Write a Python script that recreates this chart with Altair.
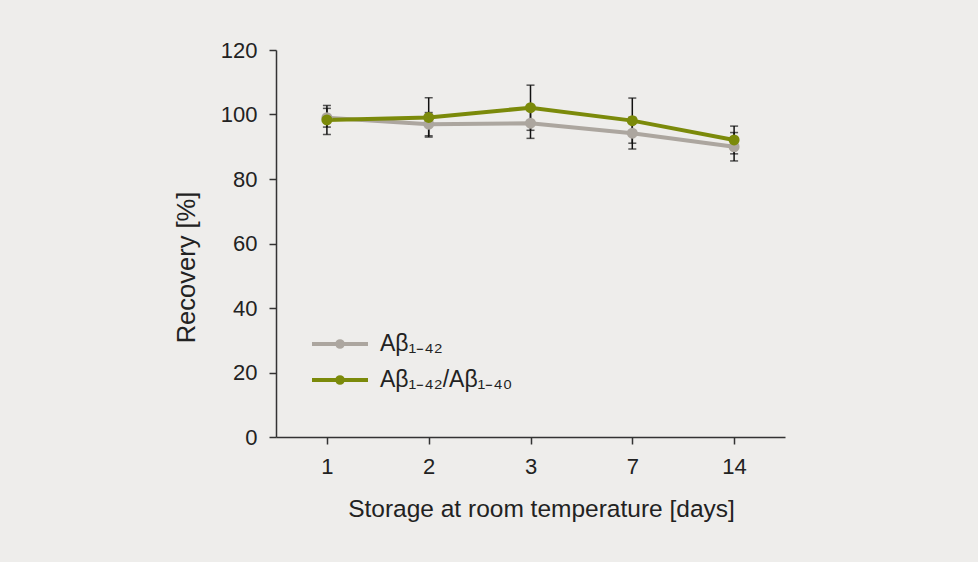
import altair as alt
import pandas as pd

days = ["1", "2", "3", "7", "14"]
series_names = ["Aβ1-42", "Aβ1-42/Aβ1-40"]
gray_values = [99.0, 97.0, 97.3, 94.2, 90.0]
gray_errors = [2.9, 3.6, 4.7, 4.9, 4.4]
green_values = [98.3, 99.1, 102.1, 98.1, 92.1]
green_errors = [4.5, 6.1, 7.0, 7.0, 4.3]
y_ticks = [0, 20, 40, 60, 80, 100, 120]

rows = []
for name, vals, errs in [(series_names[0], gray_values, gray_errors),
                         (series_names[1], green_values, green_errors)]:
    for d, v, e in zip(days, vals, errs):
        rows.append({"day": d, "series": name, "value": v, "lo": v - e, "hi": v + e})
df = pd.DataFrame(rows)

FONT = "Liberation Sans"
GRAY = "#aca69f"
GREEN = "#7b8a0a"

x_enc = alt.X("day:N", sort=days, scale=alt.Scale(type="point", padding=0.5),
              axis=alt.Axis(title="Storage at room temperature [days]", labelAngle=0,
                            tickSize=7, labelPadding=12, titlePadding=20, titleX=265,
                            titleFontSize=24.5))
y_scale = alt.Scale(domain=[0, 120], nice=False)
color_enc = alt.Color("series:N", sort=series_names,
                      scale=alt.Scale(domain=series_names, range=[GRAY, GREEN]),
                      legend=alt.Legend(
                          title=None, orient="none", legendX=48, legendY=278,
                          symbolType="M-2,0H2M0.2,0A0.2,0.2,0,1,1,-0.2,0A0.2,0.2,0,1,1,0.2,0Z",
                          symbolSize=784, symbolStrokeWidth=4, symbolFillColor=None,
                          labelFont=FONT, labelFontSize=23, labelColor="#222222",
                          labelExpr="replace(replace(datum.label, '1-42', '₁₋₄₂'), '1-40', '₁₋₄₀')",
                          rowPadding=8, labelOffset=24, padding=0))

base = alt.Chart(df).encode(x=x_enc)

rules = base.mark_rule(color="#111111", strokeWidth=1.5).encode(
    y=alt.Y("lo:Q", scale=y_scale), y2="hi:Q")
caps_hi = base.mark_tick(color="#111111", thickness=1.5, size=8).encode(
    y=alt.Y("hi:Q", scale=y_scale))
caps_lo = base.mark_tick(color="#111111", thickness=1.5, size=8).encode(
    y=alt.Y("lo:Q", scale=y_scale))

y_axis = alt.Axis(title="Recovery [%]", values=y_ticks, tickSize=7, labelPadding=12,
                  titlePadding=21, grid=False, titleFontSize=25.5, titleY=217)

lines = base.mark_line(strokeWidth=4).encode(
    y=alt.Y("value:Q", scale=y_scale, axis=y_axis),
    color=color_enc)
points = base.mark_point(filled=True, opacity=1, size=121, shape="circle").encode(
    y=alt.Y("value:Q", scale=y_scale),
    color=alt.Color("series:N", sort=series_names,
                    scale=alt.Scale(domain=series_names, range=[GRAY, GREEN]), legend=None))

chart = alt.layer(rules, caps_hi, caps_lo, lines, points).properties(
    width=509, height=387,
    autosize=alt.AutoSizeParams(type="none"),
    padding={"left": 276, "top": 50, "right": 193, "bottom": 125},
    background="#eeedeb",
).configure_view(stroke=None).configure_axis(
    domainColor="#333333", tickColor="#333333", domainWidth=1.5, tickWidth=1.5,
    labelFont=FONT, labelFontSize=22, labelColor="#222222",
    titleFont=FONT, titleFontWeight="normal", titleColor="#222222",
)

chart.save("out.html", embed_options={"renderer": "svg", "actions": False})
